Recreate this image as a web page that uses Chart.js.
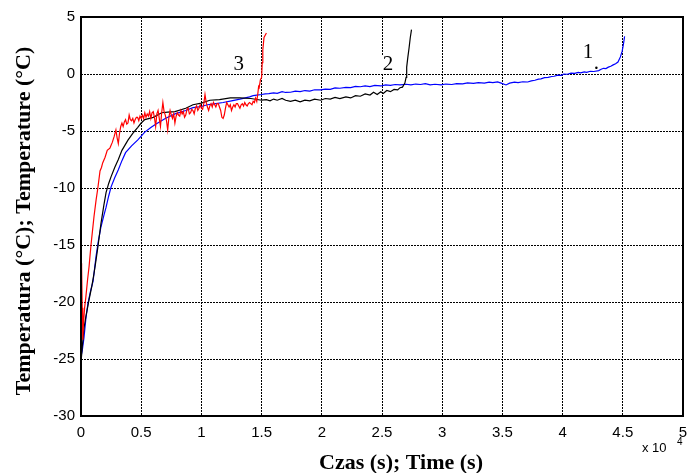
<!DOCTYPE html>
<html>
<head>
<meta charset="utf-8">
<script src="https://cdn.jsdelivr.net/npm/chart.js@4"></script>
<style>
  html, body { margin: 0; padding: 0; background: #fff; }
</style>
</head>
<body>
<canvas id="chart" width="698" height="473"></canvas>
<script>
// tick labels (x is shown in units of 10^4 s)
const xTicks = [0, 0.5, 1, 1.5, 2, 2.5, 3, 3.5, 4, 4.5, 5];
const yTicks = [5, 0, -5, -10, -15, -20, -25, -30];

// curve 1 (blue)
const time1 = [0, 100, 250, 400, 580, 800, 1000, 1250, 1450, 1660,
  1900, 2080, 2300, 2500, 2800, 3100, 3400, 3700, 4200, 4700,
  5300, 5800, 6200, 7000, 7800, 8700, 9300, 10000, 10500, 11200,
  11800, 12500, 13200, 14000, 14300, 14600, 15000, 15300, 15600, 16000,
  16300, 16700, 17000, 17400, 17800, 18200, 18600, 19000, 19400, 19900,
  20300, 20700, 21100, 21500, 22000, 22400, 22800, 23200, 23600, 24000,
  24400, 24900, 25300, 25700, 26100, 26500, 27000, 27400, 27800, 28200,
  28600, 29000, 29400, 29900, 30300, 30800, 31200, 31700, 32100, 32600,
  33000, 33500, 33900, 34200, 34600, 34900, 35300, 35600, 36000, 36300,
  36700, 37100, 37400, 37700, 38000, 38200, 38500, 38800, 39100, 39300,
  39600, 39900, 40100, 40400, 40700, 41000, 41300, 41500, 41800, 42000,
  42300, 42600, 43000, 43200, 43400, 43600, 43800, 44000, 44200, 44400,
  44600, 44800, 44950, 45050, 45150];
const temp1 = [-24.8, -24.3, -23.1, -21.5, -20.1, -19.0, -18.2, -16.0, -14.6, -13.4,
  -12.4, -11.7, -10.7, -9.9, -9.1, -8.4, -7.6, -6.9, -6.3, -5.8,
  -5.1, -4.7, -4.4, -3.9, -3.5, -3.2, -2.95, -2.85, -2.7, -2.6,
  -2.5, -2.35, -2.2, -2.0, -1.9, -1.85, -1.8, -1.75, -1.72, -1.65,
  -1.7, -1.55, -1.62, -1.6, -1.5, -1.55, -1.45, -1.5, -1.38, -1.4,
  -1.32, -1.35, -1.22, -1.25, -1.18, -1.2, -1.08, -1.12, -1.05, -1.1,
  -1.0, -1.05, -0.95, -1.0, -0.92, -0.96, -0.9, -0.95, -0.88, -0.92,
  -0.85, -0.95, -0.9, -0.96, -0.88, -0.92, -0.84, -0.86, -0.78, -0.82,
  -0.76, -0.8, -0.72, -0.76, -0.7, -0.8, -0.96, -0.8, -0.72, -0.76,
  -0.68, -0.7, -0.6, -0.55, -0.45, -0.42, -0.32, -0.3, -0.22, -0.2,
  -0.1, -0.12, 0.0, -0.02, 0.08, 0.05, 0.14, 0.1, 0.18, 0.15,
  0.24, 0.22, 0.3, 0.42, 0.5, 0.48, 0.6, 0.68, 0.8, 0.9,
  1.05, 1.5, 2.0, 2.6, 3.3];

// curve 2 (black)
const time2 = [0, 100, 250, 400, 670, 900, 1080, 1250, 1400, 1660,
  1900, 2080, 2300, 2500, 2800, 3100, 3400, 3900, 4300, 4700,
  5000, 5300, 6000, 6700, 7200, 7800, 8700, 9300, 10000, 10700,
  11500, 12400, 13200, 14100, 15000, 15400, 15700, 16000, 16300, 16700,
  17000, 17400, 17800, 18200, 18600, 19000, 19400, 19900, 20300, 20700,
  21100, 21500, 22000, 22400, 22800, 23200, 23600, 24000, 24300, 24600,
  24900, 25100, 25400, 25700, 26000, 26300, 26500, 26700, 26900, 27000,
  27050, 27150, 27250, 27350, 27450];
const temp2 = [-25.3, -24.0, -22.3, -21.3, -19.8, -18.6, -17.5, -16.3, -15.2, -13.1,
  -11.5, -10.4, -9.6, -9.0, -8.2, -7.5, -6.7, -5.8, -5.2, -4.7,
  -4.3, -4.0, -3.8, -3.4, -3.35, -3.3, -3.0, -2.7, -2.55, -2.3,
  -2.25, -2.1, -2.1, -2.15, -2.3, -2.25, -2.35, -2.2, -2.3, -2.15,
  -2.3, -2.4, -2.3, -2.45, -2.3, -2.35, -2.2, -2.3, -2.15, -2.2,
  -2.05, -2.15, -2.0, -2.1, -1.9, -1.95, -1.75, -1.85, -1.6, -1.8,
  -1.55, -1.7, -1.45, -1.55, -1.35, -1.4, -1.2, -1.15, -0.8, -0.3,
  0.6, 1.5, 2.3, 3.2, 3.9];

// curve 3 (red)
const time3 = [0, 50, 100, 150, 200, 300, 400, 550, 670, 830,
  950, 1080, 1260, 1400, 1580, 1700, 1800, 2000, 2180, 2400,
  2600, 2750, 2900,
  3000, 3100, 3200, 3300, 3400, 3500, 3600, 3700, 3800, 3900,
  4000, 4100, 4200, 4300, 4400, 4500, 4600, 4700, 4800, 4900,
  5000, 5100, 5200, 5300, 5400, 5500, 5600, 5700, 5800, 5900,
  6000, 6100, 6200, 6300, 6400, 6500, 6600, 6700, 6800, 6900,
  7000, 7100, 7200, 7300, 7400, 7500, 7600, 7700, 7800, 7900,
  8000, 8100, 8200, 8300, 8400, 8500, 8600, 8700, 8800, 8900,
  9000, 9100, 9200, 9300, 9400, 9500, 9600, 9700, 9800, 9900,
  10000, 10100, 10200, 10300, 10400, 10500, 10600, 10700, 10800, 10900,
  11000, 11100, 11200, 11300, 11400, 11500, 11600, 11700, 11800, 11900,
  12000, 12100, 12200, 12300, 12400, 12500, 12600, 12700, 12800, 12900,
  13000, 13100, 13200, 13300, 13400, 13500, 13600, 13700, 13800, 13900,
  14000, 14100, 14200, 14300, 14400, 14500, 14600, 14700,
  14750, 14800, 14900, 15000, 15050, 15100, 15200, 15400];
const temp3 = [-16.6, -17.0, -20.5, -23.3, -22.0, -20.5, -19.6, -18.0, -16.9, -15.0,
  -13.8, -12.5, -11.0, -10.0, -8.5, -8.2, -7.8, -7.3, -6.7, -6.5,
  -6.0, -5.5, -4.9,
  -5.6, -6.1, -5.2, -4.6, -4.3, -4.6, -4.2, -4.0, -4.4, -4.3,
  -3.6, -4.0, -4.1, -3.9, -4.3, -4.0, -3.8, -3.8, -4.1, -3.7,
  -3.9, -3.6, -3.9, -3.4, -3.8, -3.5, -3.7, -3.3, -3.9, -3.4,
  -3.3, -3.8, -4.6, -3.5, -3.2, -3.9, -4.6, -3.4, -2.5, -3.3,
  -3.6, -4.1, -4.9, -3.8, -3.2, -3.6, -3.9, -3.5, -4.3, -3.7,
  -3.4, -3.6, -3.7, -3.2, -3.5, -3.3, -3.8, -3.6, -3.1, -3.0,
  -3.5, -3.4, -3.1, -3.2, -3.5, -3.0, -2.8, -3.2, -3.0, -2.7,
  -3.0, -3.1, -2.6, -1.8, -2.5, -2.9, -3.2, -2.8, -2.6, -2.9,
  -2.5, -2.7, -2.9, -2.6, -2.6, -2.9, -3.2, -3.8, -3.9, -3.6,
  -3.0, -2.5, -2.7, -2.9, -2.7, -3.2, -2.9, -2.7, -2.9, -2.6,
  -2.6, -2.8, -3.0, -2.7, -2.6, -2.8, -2.5, -2.7, -2.8, -2.6,
  -2.5, -2.6, -2.7, -2.4, -2.5, -2.1, -2.4, -1.6,
  -1.1, -1.2, -0.5, -0.3, 1.0, 2.1, 3.2, 3.6];

// curve numbers written on the plot
const curveLabels = ['1', '2', '3', '.'];
const labelTimes = [42100, 25500, 13100, 42800];
const labelTemps = [1.9, 0.8, 0.8, 0.9];

const toPoints = (t, v) => t.map((x, i) => ({ x: x, y: v[i] }));

Chart.defaults.color = '#000';
Chart.defaults.font.family = '"Liberation Sans", Arial, sans-serif';
Chart.defaults.font.size = 15;

const serif = '"Liberation Serif", "Times New Roman", serif';

// frame, curve numbers and axis titles
const extras = {
  id: 'extras',
  afterDraw(chart) {
    const { ctx, chartArea: a, scales: { x, y } } = chart;
    ctx.save();

    ctx.font = '21px ' + serif;
    ctx.textAlign = 'center';
    ctx.textBaseline = 'middle';
    curveLabels.forEach((txt, i) => {
      const px = x.getPixelForValue(labelTimes[i]);
      const py = y.getPixelForValue(labelTemps[i]);
      if (txt !== '.') {
        const w = ctx.measureText(txt).width;
        ctx.fillStyle = '#fff';
        ctx.fillRect(px - w / 2 - 2, py - 9, w + 10, 18);
      }
      ctx.fillStyle = '#000';
      ctx.fillText(txt, px, py);
    });

    ctx.strokeStyle = '#000';
    ctx.lineWidth = 2;
    ctx.strokeRect(a.left, a.top, a.right - a.left, a.bottom - a.top);

    ctx.fillStyle = '#000';
    ctx.font = 'bold 22px ' + serif;
    ctx.textAlign = 'center';
    ctx.textBaseline = 'alphabetic';
    ctx.fillText('Czas (s); Time (s)', 401, 469);

    ctx.save();
    ctx.translate(24, 221);
    ctx.rotate(-Math.PI / 2);
    ctx.textBaseline = 'middle';
    ctx.fillText('Temperatura (°C); Temperature (°C)', 0, 0);
    ctx.restore();

    ctx.font = '13px "Liberation Sans", Arial, sans-serif';
    ctx.textAlign = 'left';
    ctx.fillText('x 10', 642, 452);
    ctx.font = '10px "Liberation Sans", Arial, sans-serif';
    ctx.fillText('4', 677, 445);

    ctx.restore();
  }
};

new Chart(document.getElementById('chart'), {
  type: 'scatter',
  data: {
    datasets: [
      { label: '3', data: toPoints(time3, temp3), borderColor: '#ff0000' },
      { label: '2', data: toPoints(time2, temp2), borderColor: '#000000' },
      { label: '1', data: toPoints(time1, temp1), borderColor: '#0000ff' }
    ]
  },
  options: {
    responsive: false,
    animation: false,
    devicePixelRatio: 1,
    showLine: true,
    elements: {
      point: { radius: 0 },
      line: { borderWidth: 1.2, tension: 0 }
    },
    layout: { padding: { left: 0, right: 15, top: 17, bottom: 0 } },
    plugins: { legend: { display: false }, tooltip: { enabled: false } },
    scales: {
      x: {
        type: 'linear',
        min: 0,
        max: 50000,
        afterBuildTicks: s => { s.ticks = xTicks.map(v => ({ value: v * 10000 })); },
        afterFit: s => { s.height = 57; },
        ticks: {
          callback: v => String(v / 10000),
          maxRotation: 0,
          autoSkip: false,
          padding: 8
        },
        grid: { color: '#000', lineWidth: 1, drawTicks: false },
        border: { display: false, dash: [2, 1] }
      },
      y: {
        min: -30,
        max: 5,
        afterBuildTicks: s => { s.ticks = yTicks.map(v => ({ value: v })); },
        afterFit: s => { s.width = 81; },
        ticks: { padding: 6, autoSkip: false },
        grid: { color: '#000', lineWidth: 1, drawTicks: false },
        border: { display: false, dash: [2, 1] }
      }
    }
  },
  plugins: [extras]
});
</script>
</body>
</html>
